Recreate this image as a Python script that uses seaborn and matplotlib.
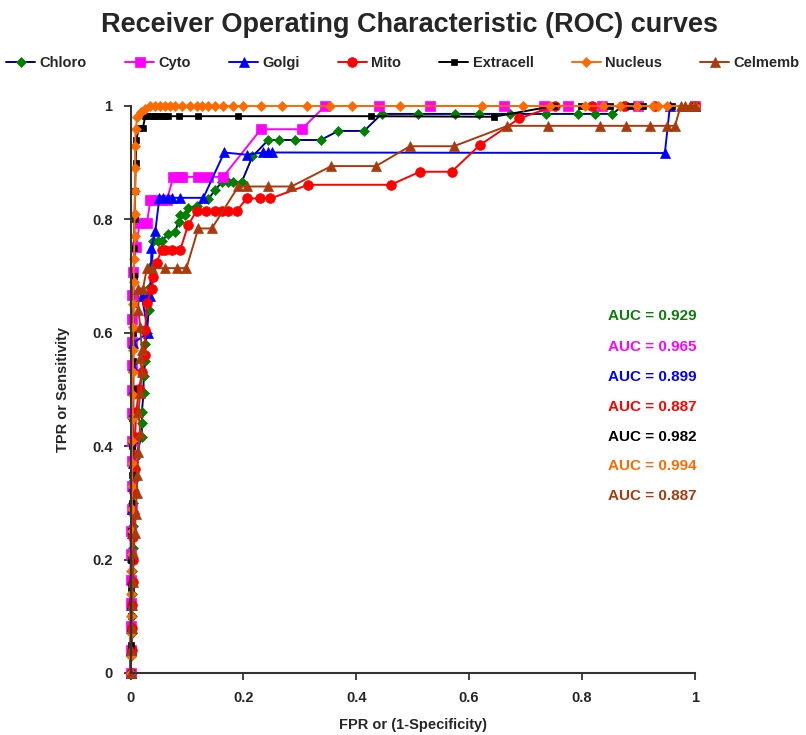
import numpy as np
import pandas as pd
import seaborn as sns
import matplotlib
matplotlib.use("Agg")
import matplotlib.pyplot as plt

# ROC points (FPR, TPR)
chloro_fpr = [0, 0, 0.002, 0.002, 0.003, 0.003, 0.004, 0.005, 0.005, 0.006, 0.008, 0.020, 0.020, 0.020,
              0.023, 0.023, 0.026, 0.026, 0.029, 0.032, 0.035, 0.038, 0.040, 0.049, 0.055, 0.067, 0.079,
              0.085, 0.088, 0.097, 0.102, 0.117, 0.138, 0.150, 0.162, 0.173, 0.182, 0.197, 0.216, 0.244,
              0.263, 0.292, 0.337, 0.368, 0.414, 0.445, 0.510, 0.575, 0.617, 0.672, 0.737, 0.793, 0.823,
              0.854, 0.872, 1.0]
chloro_tpr = [0, 0.03, 0.07, 0.10, 0.14, 0.18, 0.22, 0.26, 0.30, 0.34, 0.38, 0.417, 0.44, 0.461,
              0.493, 0.523, 0.55, 0.581, 0.599, 0.64, 0.68, 0.72, 0.761, 0.761, 0.761, 0.775, 0.778,
              0.796, 0.808, 0.808, 0.820, 0.824, 0.836, 0.852, 0.866, 0.866, 0.866, 0.866, 0.911, 0.940,
              0.940, 0.940, 0.940, 0.956, 0.956, 0.986, 0.986, 0.986, 0.986, 0.986, 0.986, 0.986, 0.986,
              0.986, 1.0, 1.0]

cyto_fpr = [0, 0, 0, 0, 0, 0, 0, 0.002, 0.002, 0.002, 0.002, 0.002, 0.002, 0.002, 0.002, 0.002, 0.002,
            0.004, 0.010, 0.016, 0.029, 0.035, 0.043, 0.055, 0.064, 0.076, 0.085, 0.091, 0.120, 0.138,
            0.164, 0.231, 0.303, 0.345, 0.440, 0.531, 0.662, 0.733, 0.775, 0.835, 0.90, 1.0]
cyto_tpr = [0, 0.04, 0.082, 0.123, 0.164, 0.21, 0.25, 0.29, 0.33, 0.373, 0.41, 0.459, 0.499, 0.543,
            0.584, 0.625, 0.667, 0.708, 0.752, 0.793, 0.793, 0.834, 0.834, 0.834, 0.834, 0.875, 0.875,
            0.875, 0.875, 0.875, 0.875, 0.959, 0.959, 1.0, 1.0, 1.0, 1.0, 1.0, 1.0, 1.0, 1.0, 1.0]

golgi_fpr = [0, 0, 0.001, 0.001, 0.002, 0.002, 0.003, 0.003, 0.004, 0.004, 0.005, 0.005, 0.005, 0.005,
             0.005, 0.031, 0.020, 0.029, 0.035, 0.037, 0.044, 0.051, 0.058, 0.067, 0.073, 0.088, 0.129,
             0.166, 0.206, 0.235, 0.244, 0.250, 0.947, 0.956, 1.0]
golgi_tpr = [0, 0.04, 0.08, 0.12, 0.165, 0.205, 0.246, 0.29, 0.329, 0.37, 0.415, 0.457, 0.499, 0.54,
             0.582, 0.60, 0.664, 0.664, 0.664, 0.749, 0.78, 0.838, 0.838, 0.838, 0.838, 0.838, 0.838,
             0.918, 0.914, 0.918, 0.918, 0.918, 0.917, 1.0, 1.0]

mito_fpr = [0, 0.002, 0.003, 0.003, 0.004, 0.005, 0.005, 0.006, 0.006, 0.007, 0.008, 0.010, 0.015, 0.020,
            0.026, 0.026, 0.029, 0.038, 0.040, 0.046, 0.055, 0.061, 0.073, 0.088, 0.102, 0.117, 0.134,
            0.150, 0.162, 0.173, 0.188, 0.206, 0.230, 0.248, 0.315, 0.461, 0.513, 0.569, 0.619, 0.689,
            0.752, 0.817, 0.876, 0.93, 1.0]
mito_tpr = [0, 0.04, 0.08, 0.12, 0.16, 0.20, 0.24, 0.28, 0.32, 0.36, 0.417, 0.46, 0.50, 0.53,
            0.561, 0.605, 0.652, 0.678, 0.699, 0.723, 0.746, 0.746, 0.746, 0.746, 0.790, 0.815, 0.815,
            0.815, 0.815, 0.815, 0.815, 0.837, 0.837, 0.837, 0.861, 0.861, 0.884, 0.884, 0.931, 0.978,
            1.0, 1.0, 1.0, 1.0, 1.0]

extra_fpr = [0, 0, 0, 0, 0.001, 0.001, 0.002, 0.002, 0.003, 0.003, 0.004, 0.004, 0.005, 0.005, 0.006,
             0.006, 0.007, 0.008, 0.009, 0.010, 0.015, 0.022, 0.026, 0.032, 0.038, 0.043, 0.049, 0.055,
             0.061, 0.067, 0.085, 0.120, 0.191, 0.427, 0.644, 0.75, 0.799, 0.849, 0.885, 0.908, 0.959, 1.0]
extra_tpr = [0, 0.05, 0.10, 0.15, 0.20, 0.25, 0.30, 0.35, 0.40, 0.45, 0.50, 0.55, 0.60, 0.65, 0.70,
             0.75, 0.80, 0.85, 0.90, 0.94, 0.962, 0.962, 0.982, 0.982, 0.982, 0.982, 0.982, 0.982,
             0.982, 0.982, 0.982, 0.982, 0.982, 0.982, 0.981, 1.0, 1.0, 1.0, 1.0, 1.0, 1.0, 1.0]

nucleus_fpr = [0, 0, 0, 0, 0.001, 0.001, 0.002, 0.002, 0.002, 0.003, 0.003, 0.003, 0.004, 0.004, 0.004,
               0.005, 0.005, 0.005, 0.006, 0.006, 0.007, 0.007, 0.008, 0.008, 0.008, 0.009, 0.012, 0.018,
               0.025, 0.035, 0.043, 0.052, 0.061, 0.070, 0.079, 0.091, 0.105, 0.117, 0.126, 0.138, 0.150,
               0.164, 0.182, 0.200, 0.232, 0.268, 0.312, 0.353, 0.393, 0.477, 0.622, 0.695, 0.743, 0.805,
               0.837, 0.867, 0.897, 0.926, 0.935, 0.950, 1.0]
nucleus_tpr = [0, 0.03, 0.07, 0.10, 0.14, 0.18, 0.21, 0.25, 0.29, 0.33, 0.37, 0.41, 0.45, 0.49, 0.53,
               0.57, 0.61, 0.65, 0.69, 0.73, 0.77, 0.81, 0.85, 0.89, 0.93, 0.96, 0.98, 0.99,
               0.995, 1.0, 1.0, 1.0, 1.0, 1.0, 1.0, 1.0, 1.0, 1.0, 1.0, 1.0, 1.0,
               1.0, 1.0, 1.0, 1.0, 1.0, 1.0, 1.0, 1.0, 1.0, 1.0, 1.0, 1.0, 1.0,
               1.0, 1.0, 1.0, 1.0, 1.0, 1.0, 1.0]

celmemb_fpr = [0, 0.001, 0.002, 0.003, 0.004, 0.005, 0.008, 0.009, 0.011, 0.012, 0.014, 0.017, 0.014,
               0.017, 0.020, 0.017, 0.020, 0.017, 0.014, 0.014, 0.022, 0.029, 0.038, 0.061, 0.082, 0.099,
               0.120, 0.144, 0.191, 0.206, 0.244, 0.285, 0.356, 0.435, 0.495, 0.573, 0.668, 0.740, 0.832,
               0.878, 0.920, 0.950, 0.965, 0.975, 0.983, 0.991, 1.0]
celmemb_tpr = [0, 0.04, 0.08, 0.12, 0.16, 0.211, 0.247, 0.28, 0.317, 0.35, 0.390, 0.423, 0.461,
               0.493, 0.531, 0.555, 0.570, 0.611, 0.640, 0.678, 0.678, 0.714, 0.714, 0.714, 0.714, 0.714,
               0.784, 0.784, 0.858, 0.858, 0.858, 0.858, 0.894, 0.894, 0.929, 0.929, 0.965, 0.965, 0.965,
               0.965, 0.965, 0.965, 0.965, 1.0, 1.0, 1.0, 1.0]

names = ["Chloro", "Cyto", "Golgi", "Mito", "Extracell", "Nucleus", "Celmemb"]
auc_values = ["0.929", "0.965", "0.899", "0.887", "0.982", "0.994", "0.887"]
tick_values = [0, 0.2, 0.4, 0.6, 0.8, 1]
tick_labels = ["0", "0.2", "0.4", "0.6", "0.8", "1"]

curves = {
    "Chloro": (chloro_fpr, chloro_tpr),
    "Cyto": (cyto_fpr, cyto_tpr),
    "Golgi": (golgi_fpr, golgi_tpr),
    "Mito": (mito_fpr, mito_tpr),
    "Extracell": (extra_fpr, extra_tpr),
    "Nucleus": (nucleus_fpr, nucleus_tpr),
    "Celmemb": (celmemb_fpr, celmemb_tpr),
}

# line colour, marker colour, marker, marker size, auc text colour
styles = {
    "Chloro": ("#000080", "#008000", "D", 5.5, "#0a7d0a"),
    "Cyto": ("#ff00ff", "#ff00ff", "s", 6.5, "#ff00ff"),
    "Golgi": ("#0000ff", "#0000ff", "^", 7.5, "#0000ff"),
    "Mito": ("#ff0000", "#ff0000", "o", 7.0, "#ff0000"),
    "Extracell": ("#000000", "#000000", "s", 3.8, "#000000"),
    "Nucleus": ("#ff6a00", "#ff6a00", "D", 5.5, "#ff6a00"),
    "Celmemb": ("#a83a0c", "#a83a0c", "^", 7.5, "#a83a0c"),
}

sns.set_style("ticks")
plt.rcParams["font.family"] = ["Liberation Sans", "DejaVu Sans"]
plt.rcParams["font.weight"] = "bold"

fig = plt.figure(figsize=(8.06, 7.35), dpi=100)
ax = fig.add_axes([0.162, 0.0844, 0.700, 0.7714])

for name in names:
    fpr, tpr = curves[name]
    df = pd.DataFrame({"FPR": fpr, "TPR": tpr})
    lc, mc, mk, ms, _ = styles[name]
    sns.lineplot(data=df, x="FPR", y="TPR", ax=ax, sort=False, estimator=None,
                 color=lc, linewidth=1.4, marker=mk, markersize=ms,
                 markerfacecolor=mc, markeredgecolor=mc, markeredgewidth=0.5,
                 label=name, clip_on=False, legend=False)

ax.set_xlim(0, 1)
ax.set_ylim(0, 1)
ax.set_xticks(tick_values)
ax.set_xticklabels(tick_labels)
ax.set_yticks(tick_values)
ax.set_yticklabels(tick_labels)
ax.tick_params(labelsize=10.5, width=1.3, length=5, color="#333333", pad=8)
for s in ["left", "bottom"]:
    ax.spines[s].set_linewidth(1.5)
    ax.spines[s].set_color("#333333")
sns.despine(ax=ax)

ax.set_xlabel("FPR or (1-Specificity)", fontsize=10.5, fontweight="bold", labelpad=9)
ax.set_ylabel("TPR or Sensitivity", fontsize=10.5, fontweight="bold", labelpad=16)

auc_y = [0.630, 0.575, 0.522, 0.469, 0.416, 0.365, 0.312]
for name, auc, yy in zip(names, auc_values, auc_y):
    ax.text(0.846, yy, f"AUC = {auc}", color=styles[name][4], fontsize=11,
            fontweight="bold", va="center", ha="left")

fig.text(0.508, 0.966, "Receiver Operating Characteristic (ROC) curves", ha="center", va="center",
         fontsize=19.5, fontweight="bold")

handles, labels = ax.get_legend_handles_labels()
fig.legend(handles, labels, loc="center", bbox_to_anchor=(0.5, 0.914), ncol=7, frameon=False,
           handlelength=2.0, handletextpad=0.3, columnspacing=2.6,
           prop={"weight": "bold", "size": 10.5})

fig.savefig("out.png", dpi=100)
